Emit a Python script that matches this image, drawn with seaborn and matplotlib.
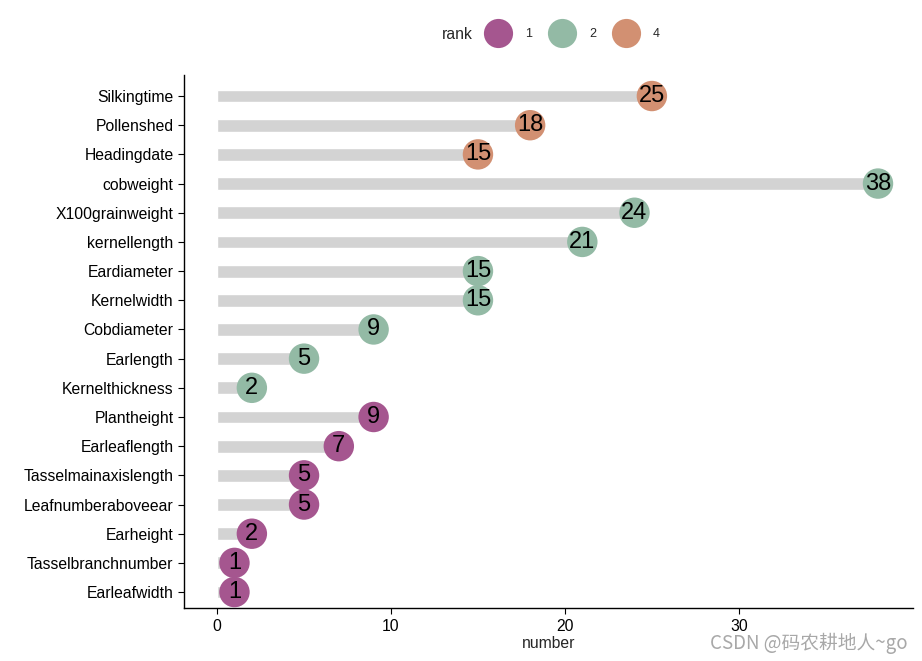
import pandas as pd
import matplotlib.pyplot as plt
import seaborn as sns
from matplotlib.lines import Line2D

# dados
traits = ["Silkingtime", "Pollenshed", "Headingdate", "cobweight", "X100grainweight",
          "kernellength", "Eardiameter", "Kernelwidth", "Cobdiameter", "Earlength",
          "Kernelthickness", "Plantheight", "Earleaflength", "Tasselmainaxislength",
          "Leafnumberaboveear", "Earheight", "Tasselbranchnumber", "Earleafwidth"]
number = [25, 18, 15, 38, 24, 21, 15, 15, 9, 5, 2, 9, 7, 5, 5, 2, 1, 1]
rank = [4, 4, 4, 2, 2, 2, 2, 2, 2, 2, 2, 1, 1, 1, 1, 1, 1, 1]

cores = {1: "#A5568F", 2: "#93BAA5", 4: "#D29072"}

df = pd.DataFrame({"trait": traits, "number": number, "rank": rank})

sns.set_style("white")
plt.rcParams["font.family"] = ["Liberation Sans", "DejaVu Sans"]

fig = plt.figure(figsize=(9.22, 6.61), dpi=100)
ax = fig.add_axes([0.1996, 0.080, 0.7904, 0.8065])

# barras cinza
sns.barplot(data=df, y="trait", x="number", color="#D3D3D3", width=0.44,
            saturation=1, order=traits, ax=ax, zorder=1)
# pontos
sns.scatterplot(data=df, y="trait", x="number", hue="rank", palette=cores,
                s=480, linewidth=0, ax=ax, zorder=3, legend=False)
for i, (v, t) in enumerate(zip(number, traits)):
    ax.text(v, i, str(v), ha="center", va="center", fontsize=17, color="black", zorder=4)

ax.set_xlim(-1.9, 40)
ax.set_ylim(17.55, -0.72)
ax.set_xticks([0, 10, 20, 30])
ax.set_xlabel("number", fontsize=11.3, labelpad=2)
ax.set_ylabel("")
for s in ["top", "right"]:
    ax.spines[s].set_visible(False)
for s in ["left", "bottom"]:
    ax.spines[s].set_color("black")
    ax.spines[s].set_linewidth(1.0)
ax.tick_params(axis="both", which="both", length=4, color="black", labelsize=11.3,
               labelcolor="black", direction="out", left=True, bottom=True)

# legenda
fig.text(0.496, 0.948, "rank", fontsize=11.3, ha="center", va="center")
handles = [Line2D([], [], marker="o", linestyle="", markersize=21, color=cores[k],
                  markeredgewidth=0) for k in [1, 2, 4]]
fig.legend(handles, ["1", "2", "4"], loc="center", bbox_to_anchor=(0.6215, 0.948), ncol=3,
           frameon=False, fontsize=9, handletextpad=1.15, columnspacing=1.4)

fig.text(0.984, 0.026, "CSDN @码农耕地人~go", fontsize=13.5, color="#A8A8A8", ha="right",
         va="center", family=["Noto Sans CJK SC", "DejaVu Sans"])

fig.savefig("out.png", dpi=100)
